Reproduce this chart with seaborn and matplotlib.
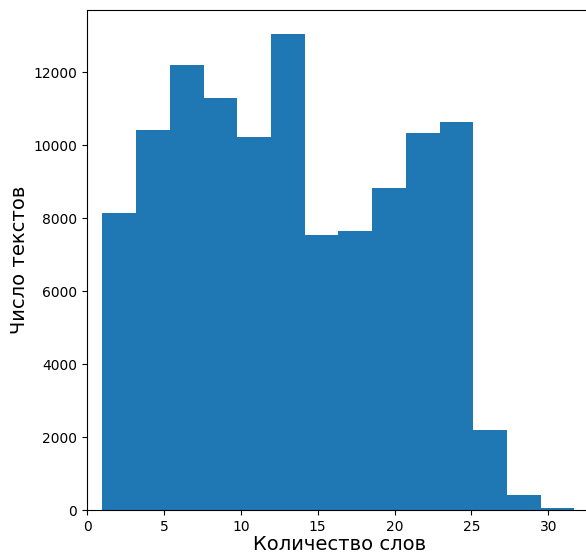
import numpy as np
import pandas as pd
import matplotlib
matplotlib.use("Agg")
import matplotlib.pyplot as plt
import seaborn as sns

# Histogram data
bin_start = 1.0
bin_end = 31.7
n_bins = 14
counts = [8150, 10400, 12190, 11300, 10210, 13040, 7540, 7650,
          8810, 10340, 10640, 2195, 410, 60]
x_label = "Количество слов"
y_label = "Число текстов"

centers = bin_start + (np.arange(n_bins) + 0.5) * (bin_end - bin_start) / n_bins
df = pd.DataFrame({"words": centers, "count": counts})

fig = plt.figure(figsize=(5.86, 5.54), dpi=100)
ax = fig.add_axes([87 / 586, 44 / 554, (610 - 87) / 586, 500 / 554])

sns.histplot(data=df, x="words", weights="count", bins=n_bins,
             binrange=(bin_start, bin_end), color="#1f77b4",
             alpha=1.0, linewidth=0, ax=ax)

xmax = 33.3 * (610 - 87) / (599 - 87)
ax.set_xlim(0, xmax)
ax.set_ylim(0, 13700)
ax.set_xticks([0, 5, 10, 15, 20, 25, 30])
ax.set_yticks([0, 2000, 4000, 6000, 8000, 10000, 12000])
ax.tick_params(labelsize=10)
ax.set_xlabel(x_label, fontsize=14, labelpad=1)
ax.xaxis.label.set_x((340 - 87) / (610 - 87))
ax.set_ylabel(y_label, fontsize=14, labelpad=3)

fig.savefig("out.png", dpi=100)
